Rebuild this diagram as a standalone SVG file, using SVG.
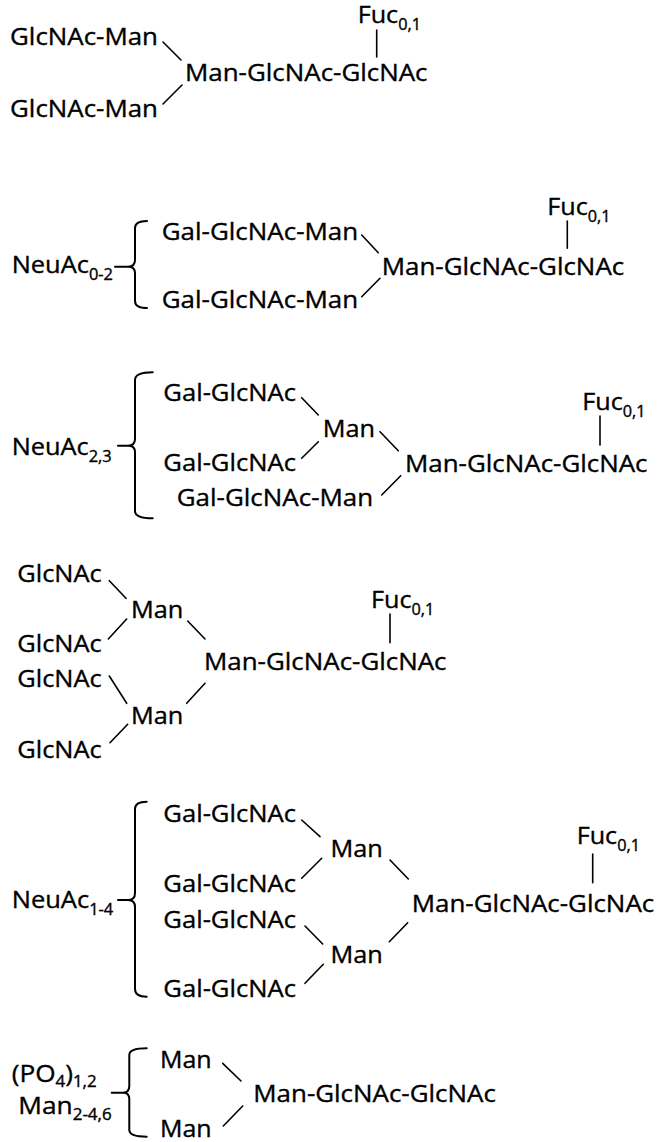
<svg xmlns="http://www.w3.org/2000/svg" width="657" height="1142" viewBox="0 0 657 1142">
<style>
text{font-family:"Open Sans","Noto Sans","Liberation Sans",sans-serif;font-size:24px;fill:#000;stroke:#000;stroke-width:0.35}
.s{font-size:15.5px}
.c line,.c path{stroke:#000;stroke-width:1.6;fill:none;stroke-linecap:round}
.c path.b{stroke-width:2}
</style>
<rect width="657" height="1142" fill="#fff"/>
<g class="c" id="connectors">
<line x1="163" y1="42" x2="181" y2="60"/>
<line x1="163" y1="104" x2="182" y2="85"/>
<line x1="376.7" y1="30" x2="376.7" y2="57"/>
<path class="b" d="M147,221 Q135,221 135,228 V260 Q135,266.7 128,266.7 H115 M128,266.7 Q135,266.7 135,273 V301 Q135,308 147,308"/>
<line x1="361.7" y1="235" x2="378.3" y2="252.7"/>
<line x1="361.7" y1="296.7" x2="380" y2="278.3"/>
<line x1="567.3" y1="221" x2="567.3" y2="248.3"/>
<path class="b" d="M152.7,372.3 Q135,372.3 135,380 V439 Q135,445.7 128,445.7 H118 M128,445.7 Q135,445.7 135,452 V511 Q135,518.3 152.7,518.3"/>
<line x1="301.7" y1="397.7" x2="318.3" y2="415"/>
<line x1="301.7" y1="458.3" x2="318.3" y2="441.7"/>
<line x1="380" y1="431.7" x2="398.3" y2="450.7"/>
<line x1="381.7" y1="495" x2="400.7" y2="475.7"/>
<line x1="600" y1="416" x2="600" y2="445"/>
<line x1="109.3" y1="580.7" x2="126" y2="598.3"/>
<line x1="108.3" y1="639" x2="126.7" y2="619"/>
<line x1="109.3" y1="676" x2="126.7" y2="703.3"/>
<line x1="110" y1="742.7" x2="127.7" y2="724.3"/>
<line x1="187.7" y1="621" x2="205" y2="639"/>
<line x1="186.7" y1="703.3" x2="205" y2="683.3"/>
<line x1="390" y1="614" x2="390" y2="642.7"/>
<path class="b" d="M146.7,801.7 Q135,801.7 135,809 V893 Q135,900 128,900 H118 M128,900 Q135,900 135,907 V989 Q135,996.7 146.7,996.7"/>
<line x1="301.7" y1="820" x2="320" y2="836.7"/>
<line x1="301.7" y1="878.3" x2="321.7" y2="858.3"/>
<line x1="305" y1="926" x2="322.7" y2="944"/>
<line x1="305" y1="983.3" x2="323.3" y2="964.3"/>
<line x1="390" y1="860" x2="408.3" y2="879"/>
<line x1="389.3" y1="941.7" x2="407.7" y2="922.7"/>
<line x1="592.7" y1="854" x2="592.7" y2="882.7"/>
<path class="b" d="M146.7,1048.3 Q129.3,1048.3 129.3,1055 V1086 Q129.3,1092.7 123,1092.7 H111.7 M123,1092.7 Q129.3,1092.7 129.3,1099 V1130 Q129.3,1136.7 146.7,1136.7"/>
<line x1="222.7" y1="1063.3" x2="241" y2="1081"/>
<line x1="223.3" y1="1126" x2="242.7" y2="1106"/>
</g>
<g id="s1">
<text id="s1-a" x="10" y="45" textLength="148" lengthAdjust="spacingAndGlyphs">GlcNAc-Man</text>
<text id="s1-b" x="10" y="117" textLength="148" lengthAdjust="spacingAndGlyphs">GlcNAc-Man</text>
<text id="s1-core" x="185" y="81" textLength="242.5" lengthAdjust="spacingAndGlyphs">Man-GlcNAc-GlcNAc</text>
<text id="s1-fuc" x="357.7" y="23" textLength="63.3" lengthAdjust="spacingAndGlyphs">Fuc<tspan class="s" dy="7">0,1</tspan></text>
</g>
<g id="s2">
<text id="s2-neu" x="11.7" y="273" textLength="101.3" lengthAdjust="spacingAndGlyphs">NeuAc<tspan class="s" dy="7">0-2</tspan></text>
<text id="s2-a" x="161.7" y="240" textLength="196.5" lengthAdjust="spacingAndGlyphs">Gal-GlcNAc-Man</text>
<text id="s2-b" x="161.7" y="308" textLength="196.5" lengthAdjust="spacingAndGlyphs">Gal-GlcNAc-Man</text>
<text id="s2-core" x="381.7" y="275" textLength="242.5" lengthAdjust="spacingAndGlyphs">Man-GlcNAc-GlcNAc</text>
<text id="s2-fuc" x="547.3" y="215" textLength="63.3" lengthAdjust="spacingAndGlyphs">Fuc<tspan class="s" dy="7">0,1</tspan></text>
</g>
<g id="s3">
<text id="s3-neu" x="11.7" y="455" textLength="100" lengthAdjust="spacingAndGlyphs">NeuAc<tspan class="s" dy="7">2,3</tspan></text>
<text id="s3-a" x="163.3" y="400.7" textLength="132.7" lengthAdjust="spacingAndGlyphs">Gal-GlcNAc</text>
<text id="s3-b" x="163.3" y="470.7" textLength="132.7" lengthAdjust="spacingAndGlyphs">Gal-GlcNAc</text>
<text id="s3-c" x="176.7" y="506" textLength="196.5" lengthAdjust="spacingAndGlyphs">Gal-GlcNAc-Man</text>
<text id="s3-man" x="322.7" y="436.7" textLength="52.3" lengthAdjust="spacingAndGlyphs">Man</text>
<text id="s3-core" x="405" y="471.7" textLength="242.5" lengthAdjust="spacingAndGlyphs">Man-GlcNAc-GlcNAc</text>
<text id="s3-fuc" x="582.3" y="410" textLength="63.3" lengthAdjust="spacingAndGlyphs">Fuc<tspan class="s" dy="7">0,1</tspan></text>
</g>
<g id="s4">
<text id="s4-g1" x="17.3" y="582.3" textLength="84.4" lengthAdjust="spacingAndGlyphs">GlcNAc</text>
<text id="s4-g2" x="17.3" y="652.3" textLength="84.4" lengthAdjust="spacingAndGlyphs">GlcNAc</text>
<text id="s4-g3" x="17.3" y="687.3" textLength="84.4" lengthAdjust="spacingAndGlyphs">GlcNAc</text>
<text id="s4-g4" x="17.3" y="758.3" textLength="84.4" lengthAdjust="spacingAndGlyphs">GlcNAc</text>
<text id="s4-m1" x="131" y="618.3" textLength="52.3" lengthAdjust="spacingAndGlyphs">Man</text>
<text id="s4-m2" x="131" y="724" textLength="52.3" lengthAdjust="spacingAndGlyphs">Man</text>
<text id="s4-core" x="204" y="670" textLength="242.5" lengthAdjust="spacingAndGlyphs">Man-GlcNAc-GlcNAc</text>
<text id="s4-fuc" x="371" y="608.3" textLength="63.3" lengthAdjust="spacingAndGlyphs">Fuc<tspan class="s" dy="7">0,1</tspan></text>
</g>
<g id="s5">
<text id="s5-neu" x="11.7" y="908.3" textLength="101.6" lengthAdjust="spacingAndGlyphs">NeuAc<tspan class="s" dy="7">1-4</tspan></text>
<text id="s5-a" x="163.3" y="821.7" textLength="132.7" lengthAdjust="spacingAndGlyphs">Gal-GlcNAc</text>
<text id="s5-b" x="163.3" y="891.7" textLength="132.7" lengthAdjust="spacingAndGlyphs">Gal-GlcNAc</text>
<text id="s5-c" x="163.3" y="927.7" textLength="132.7" lengthAdjust="spacingAndGlyphs">Gal-GlcNAc</text>
<text id="s5-d" x="163.3" y="996.7" textLength="132.7" lengthAdjust="spacingAndGlyphs">Gal-GlcNAc</text>
<text id="s5-m1" x="330.4" y="857.3" textLength="52.3" lengthAdjust="spacingAndGlyphs">Man</text>
<text id="s5-m2" x="330.4" y="963.3" textLength="52.3" lengthAdjust="spacingAndGlyphs">Man</text>
<text id="s5-core" x="411.7" y="911.7" textLength="242.5" lengthAdjust="spacingAndGlyphs">Man-GlcNAc-GlcNAc</text>
<text id="s5-fuc" x="576.7" y="844.3" textLength="63.3" lengthAdjust="spacingAndGlyphs">Fuc<tspan class="s" dy="7">0,1</tspan></text>
</g>
<g id="s6">
<text id="s6-po4" x="11.7" y="1082" textLength="85" lengthAdjust="spacingAndGlyphs">(PO<tspan class="s" dy="5">4</tspan><tspan dy="-5">)</tspan><tspan class="s" dy="5">1,2</tspan></text>
<text id="s6-man" x="18.3" y="1114" textLength="93.4" lengthAdjust="spacingAndGlyphs">Man<tspan class="s" dy="6">2-4,6</tspan></text>
<text id="s6-m1" x="160" y="1068.3" textLength="51.7" lengthAdjust="spacingAndGlyphs">Man</text>
<text id="s6-m2" x="160" y="1136.7" textLength="51.7" lengthAdjust="spacingAndGlyphs">Man</text>
<text id="s6-core" x="253.3" y="1101.7" textLength="242.5" lengthAdjust="spacingAndGlyphs">Man-GlcNAc-GlcNAc</text>
</g>
</svg>
